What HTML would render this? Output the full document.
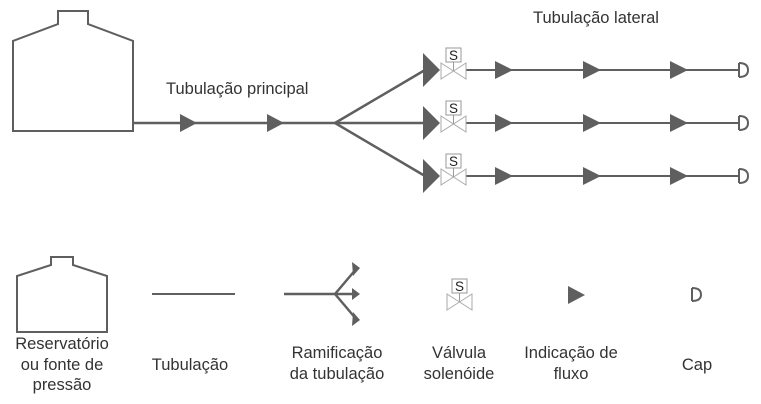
<!DOCTYPE html>
<html><head><style>
body{margin:0;background:#fff;}
svg{display:block;}
text{font-family:"Liberation Sans",Arial,sans-serif;font-size:16.5px;fill:#333;}
</style></head><body>
<svg width="761" height="404" viewBox="0 0 761 404" xmlns="http://www.w3.org/2000/svg">
<defs>
<g id="valve">
<rect x="6" y="0" width="15" height="14" fill="#fff" stroke="#999" stroke-width="1"/>
<text x="13.5" y="12" text-anchor="middle" style="font-size:13.5px;fill:#222">S</text>
<line x1="13.5" y1="14" x2="13.5" y2="23" stroke="#999"/>
<path d="M1,15 L26,31 L26,15 L1,31 Z" fill="#fff" stroke="#aaa" stroke-width="1"/>
</g>
</defs>
<g fill="none" stroke="#5f5f5f" stroke-width="2.5">
<path d="M13,131 L13,41 L58,24 L58,11 L88,11 L88,24 L133,41 L133,131 Z" stroke-width="2"/>
<line x1="133" y1="123" x2="335" y2="123"/>
<line x1="335" y1="123" x2="425" y2="70"/>
<line x1="335" y1="123" x2="425" y2="123"/>
<line x1="335" y1="123" x2="425" y2="176"/>
</g>
<g fill="#5f5f5f">
<polygon points="180,114 197,123 180,132"/>
<polygon points="267,114 284,123 267,132"/>
<polygon points="423,53 440,70 423,87"/>
<polygon points="423,106 440,123 423,140"/>
<polygon points="423,159 440,176 423,193"/>
</g>
<g stroke="#5f5f5f" stroke-width="2" fill="none">
<line x1="466" y1="70" x2="738" y2="70"/>
<line x1="466" y1="123" x2="738" y2="123"/>
<line x1="466" y1="176" x2="738" y2="176"/>
<path d="M739,63 L739,77 M739,63 Q748,63 748,70 Q748,77 739,77"/>
<path d="M739,116 L739,130 M739,116 Q748,116 748,123 Q748,130 739,130"/>
<path d="M739,169 L739,183 M739,169 Q748,169 748,176 Q748,183 739,183"/>
</g>
<g fill="#5f5f5f">
<polygon points="495,61 513,70 495,79"/><polygon points="583,61 601,70 583,79"/><polygon points="670,61 688,70 670,79"/>
<polygon points="495,114 513,123 495,132"/><polygon points="583,114 601,123 583,132"/><polygon points="670,114 688,123 670,132"/>
<polygon points="495,167 513,176 495,185"/><polygon points="583,167 601,176 583,185"/><polygon points="670,167 688,176 670,185"/>
</g>
<use href="#valve" x="440" y="48"/>
<use href="#valve" x="440" y="101"/>
<use href="#valve" x="440" y="154"/>
<text x="166" y="94">Tubulação principal</text>
<text x="533" y="23">Tubulação lateral</text>

<path d="M17,332 L17,276 L51,265 L51,257 L73,257 L73,265 L107,276 L107,332 Z" fill="none" stroke="#5f5f5f" stroke-width="2"/>
<line x1="152" y1="294" x2="235" y2="294" stroke="#5f5f5f" stroke-width="2"/>
<g stroke="#5f5f5f" stroke-width="2.5" fill="none">
<line x1="284" y1="294" x2="335" y2="294"/>
<line x1="335" y1="294" x2="357" y2="268"/>
<line x1="335" y1="294" x2="357" y2="294"/>
<line x1="335" y1="294" x2="357" y2="320"/>
</g>
<g fill="#5f5f5f">
<polygon points="352,262 360,268 353,276"/>
<polygon points="352,288 360,294 352,300"/>
<polygon points="353,312 360,320 352,326"/>
</g>
<use href="#valve" x="446" y="279"/>
<polygon points="568,286 585,295 568,304" fill="#5f5f5f"/>
<path d="M692,288 L692,301 M692,288 Q701,288 701,294.5 Q701,301 692,301" fill="none" stroke="#5f5f5f" stroke-width="2"/>

<g text-anchor="middle">
<text x="62" y="349">Reservatório</text>
<text x="62" y="370">ou fonte de</text>
<text x="62" y="390">pressão</text>
<text x="190" y="370">Tubulação</text>
<text x="337" y="358">Ramificação</text>
<text x="337" y="379">da tubulação</text>
<text x="459" y="358">Válvula</text>
<text x="459" y="379">solenóide</text>
<text x="571" y="358">Indicação de</text>
<text x="571" y="379">fluxo</text>
<text x="697" y="370">Cap</text>
</g>
</svg>
</body></html>
